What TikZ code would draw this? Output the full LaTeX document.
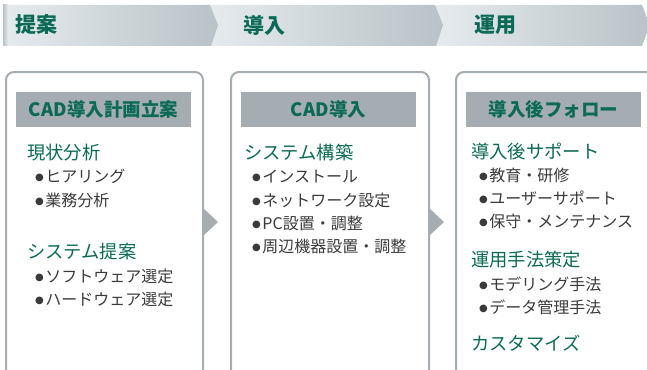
\documentclass[tikz,border=0pt]{standalone}
\usepackage{fontspec}
\setmainfont{Noto Sans CJK JP}
\newfontfamily\dvfont{DejaVu Sans}
\definecolor{jteal}{HTML}{0A6A55}
\definecolor{segL}{HTML}{E6EBEE}
\definecolor{segR}{HTML}{B9C2C7}
\definecolor{frame}{HTML}{A5ADB2}
\definecolor{body}{HTML}{3A3A3A}
\tikzset{
  hdr/.style={anchor=west, inner sep=0pt, text=jteal, font=\fontsize{21}{21}\selectfont\bfseries},
  boxframe/.style={draw=frame, line width=2pt, rounded corners=8pt, anchor=north west, inner sep=0pt},
  titlebar/.style={fill=frame, minimum width=175pt, minimum height=35pt, inner sep=0pt,
    text=jteal, font=\fontsize{18.5}{18.5}\selectfont\bfseries},
  heading/.style={anchor=west, inner sep=0pt, text height=0.88em, text depth=0.12em,
    text=jteal, font=\fontsize{18.3}{18.3}\selectfont},
  item/.style={anchor=west, inner sep=0pt, text height=0.88em, text depth=0.12em,
    text=body, font=\fontsize{16}{16}\selectfont},
  tri/.style={fill=frame}
}
\newcommand{\bul}{\raisebox{2.2pt}{\dvfont\fontsize{10}{10}\selectfont ●}\hspace{1.5pt}}
\begin{document}
\begin{tikzpicture}[x=1pt,y=-1pt]
\useasboundingbox (0,0) rectangle (647,369);
\clip (0,0) rectangle (647,369);
% header band
\path[left color=segL,right color=segR] (436,5) -- (642,5) -- (650,25) -- (642,46) -- (436,46) -- cycle;
\path[left color=segL,right color=segR] (205,5) -- (435,5) -- (443,25) -- (436,46) -- (205,46) -- cycle;
\path[left color=segL,right color=segR] (3,5) -- (210,5) -- (218,25) -- (211,46) -- (3,46) -- cycle;
\path[left color=segR,right color=segL] (3,5) rectangle (8,46);
\node[hdr] (h1) at (15,25) {提案};
\node[hdr] (h2) at (243,25) {導入};
\node[hdr] (h3) at (474,25) {運用};
% boxes
\node[boxframe, minimum width=197pt, minimum height=340pt] (b1) at (5,71) {};
\node[boxframe, minimum width=198pt, minimum height=340pt] (b2) at (230,71) {};
\node[boxframe, minimum width=230pt, minimum height=340pt] (b3) at (455,71) {};
% arrows
\fill[tri] (203,208) -- (218,222) -- (203,236) -- cycle;
\fill[tri] (429,208) -- (444,222) -- (429,236) -- cycle;
% title bars
\node[titlebar] (t1) at (103.5,109.5) {CAD導入計画立案};
\node[titlebar] (t2) at (328.5,109.5) {CAD導入};
\node[titlebar] (t3) at (553.5,109.5) {導入後フォロー};
% box 1
\node[heading] (a1) at (27,156) {現状分析};
\node[item] (a2) at (35,179) {\bul ヒアリング};
\node[item] (a3) at (35,203) {\bul 業務分析};
\node[heading] (a4) at (27,255) {システム提案};
\node[item] (a5) at (35,279) {\bul ソフトウェア選定};
\node[item] (a6) at (35,302) {\bul ハードウェア選定};
% box 2
\node[heading] (c1) at (244,156) {システム構築};
\node[item] (c2) at (252,179) {\bul インストール};
\node[item] (c3) at (252,203) {\bul ネットワーク設定};
\node[item] (c4) at (252,226) {\bul PC設置・調整};
\node[item] (c5) at (252,249) {\bul 周辺機器設置・調整};
% box 3
\node[heading] (d1) at (471,155) {導入後サポート};
\node[item] (d2) at (479,178) {\bul 教育・研修};
\node[item] (d3) at (479,201) {\bul ユーザーサポート};
\node[item] (d4) at (479,224) {\bul 保守・メンテナンス};
\node[heading] (d5) at (471,263) {運用手法策定};
\node[item] (d6) at (479,287) {\bul モデリング手法};
\node[item] (d7) at (479,310) {\bul データ管理手法};
\node[heading] (d8) at (471,347) {カスタマイズ};
\end{tikzpicture}
\end{document}
